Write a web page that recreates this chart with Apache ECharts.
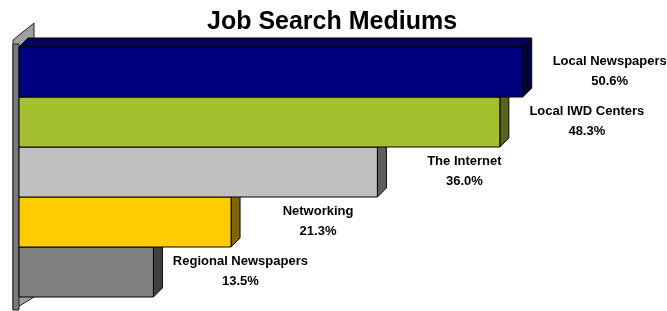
<!DOCTYPE html>
<html>
<head>
<meta charset="utf-8">
<script src="https://cdn.jsdelivr.net/npm/echarts@6/dist/echarts.min.js"></script>
<style>
  html, body { margin: 0; padding: 0; background: #fff; }
  #main { width: 667px; height: 311px; }
</style>
</head>
<body>
<div id="main"></div>
<script>
// chart data
const categories = ["Local Newspapers", "Local IWD Centers", "The Internet", "Networking", "Regional Newspapers"];
const values = [50.6, 48.3, 36.0, 21.3, 13.5];

// bar face colours (front, top, side)
const frontColors = ["#000080", "#a4bf30", "#c0c0c0", "#ffcc00", "#808080"];
const topColors = ["#000060", "#7b8f24", "#909090", "#bf9900", "#606060"];
const sideColors = ["#000040", "#56651a", "#606060", "#806600", "#404040"];

const depth = 9;
const labelGap = 78;

const chart = echarts.init(document.getElementById("main"));

function renderBar(params, api) {
    const i = api.value(1);
    const v = api.value(0);
    const start = api.coord([0, i]);
    const end = api.coord([v, i]);
    const h = api.size([0, 1])[1];
    const x0 = start[0], x1 = end[0];
    const y0 = end[1] - h / 2, y1 = end[1] + h / 2;
    const z = (categories.length - i) * 4;
    const edge = { stroke: "#000", lineWidth: 1 };
    return {
        type: "group",
        children: [
            {
                type: "polygon", z2: z,
                shape: { points: [[x0, y0], [x0 + depth, y0 - depth], [x1 + depth, y0 - depth], [x1, y0]] },
                style: Object.assign({ fill: topColors[i] }, edge),
            },
            {
                type: "polygon", z2: z + 1,
                shape: { points: [[x1, y0], [x1 + depth, y0 - depth], [x1 + depth, y1 - depth], [x1, y1]] },
                style: Object.assign({ fill: sideColors[i] }, edge),
            },
            {
                type: "rect", z2: z + 2,
                shape: { x: x0, y: y0, width: x1 - x0, height: y1 - y0 },
                style: Object.assign({ fill: frontColors[i] }, edge),
            },
            {
                type: "text", z2: 100,
                style: {
                    text: categories[i] + "\n" + v.toFixed(1) + "%",
                    x: x1 + depth + labelGap,
                    y: end[1] - 1,
                    align: "center",
                    verticalAlign: "middle",
                    font: 'bold 13px "Liberation Sans", Arial, sans-serif',
                    lineHeight: 20,
                    fill: "#000",
                },
            },
        ],
    };
}

const option = {
    animation: false,
    title: {
        text: "Job Search Mediums",
        left: 202,
        top: 5,
        textStyle: { fontFamily: '"Liberation Sans", Arial, sans-serif', fontWeight: "bold", fontSize: 25, color: "#000" },
    },
    grid: { left: 19, right: 50.7, top: 47, bottom: 14 },
    xAxis: { type: "value", min: 0, max: 60, show: false },
    yAxis: { type: "category", data: categories, inverse: true, show: false },
    graphic: [
        // axis wall, side face then front face
        {
            type: "polygon", z: 0,
            shape: { points: [[13, 40], [34, 23], [34, 297], [13, 310]] },
            style: { fill: "#a0a0a0", stroke: "#222", lineWidth: 1 },
        },
        {
            type: "rect", z: 0,
            shape: { x: 13, y: 44, width: 6, height: 266 },
            style: { fill: "#7a7a7a", stroke: "#222", lineWidth: 1 },
        },
    ],
    series: [{
        type: "custom",
        clip: false,
        renderItem: renderBar,
        encode: { x: 0, y: 1 },
        data: values.map((v, i) => [v, i]),
    }],
};
chart.setOption(option);
</script>
</body>
</html>
